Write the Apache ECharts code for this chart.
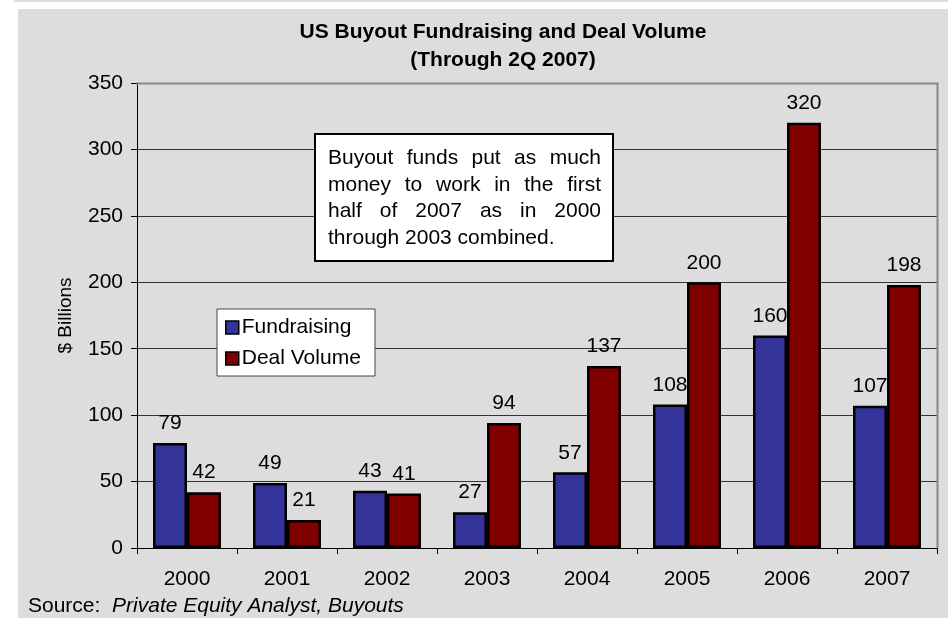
<!DOCTYPE html>
<html>
<head>
<meta charset="utf-8">
<script src="https://cdn.jsdelivr.net/npm/echarts@6/dist/echarts.min.js"></script>
<style>
  html, body { margin: 0; padding: 0; background: #ffffff; }
  #main { width: 948px; height: 618px; }
</style>
</head>
<body>
<div id="main"></div>
<script>
// chart data
var years = ["2000", "2001", "2002", "2003", "2004", "2005", "2006", "2007"];
var fundraising = [79, 49, 43, 27, 57, 108, 160, 107];
var dealVolume = [42, 21, 41, 94, 137, 200, 320, 198];
var yTicks = { min: 0, max: 350, interval: 50 };
var noteLines = [
  "Buyout funds put as much",
  "money to work in the first",
  "half of 2007 as in 2000",
  "through 2003 combined."
];

var font = "Liberation Sans, Arial, sans-serif";
var fs = 21;
var chart = echarts.init(document.getElementById("main"));

function barSeries(name, data, color) {
  return {
    name: name,
    type: "bar",
    data: data,
    barGap: "0%",
    barCategoryGap: "32%",
    itemStyle: { color: color, borderColor: "#000000", borderWidth: 2.5 },
    label: {
      show: true,
      position: "top",
      distance: 9,
      color: "#000000",
      fontSize: fs,
      fontFamily: font
    },
    z: 3
  };
}

// justified note text: measure words and spread them across the box width
var measure = document.createElement("canvas").getContext("2d");
measure.font = fs + "px " + font;
var noteLeft = 328, noteRight = 601, noteTop = 148, noteLh = 26.5;
var noteTexts = [];
noteLines.forEach(function (line, i) {
  var words = line.split(" ");
  var y = noteTop + i * noteLh;
  if (i === noteLines.length - 1) {
    noteTexts.push({ type: "text", x: noteLeft, y: y, z: 6, silent: true,
      style: { text: line, font: fs + "px " + font, fill: "#000000" } });
    return;
  }
  var total = 0;
  words.forEach(function (w) { total += measure.measureText(w).width; });
  var gap = (noteRight - noteLeft - total) / (words.length - 1);
  var x = noteLeft;
  words.forEach(function (w) {
    noteTexts.push({ type: "text", x: x, y: y, z: 6, silent: true,
      style: { text: w, font: fs + "px " + font, fill: "#000000" } });
    x += measure.measureText(w).width + gap;
  });
});

var option = {
  backgroundColor: "#ffffff",
  animation: false,
  title: {
    text: "US Buyout Fundraising and Deal Volume\n(Through 2Q 2007)",
    left: 498,
    top: 13,
    textAlign: "center",
    textStyle: {
      fontFamily: font,
      fontSize: 21,
      fontWeight: "bold",
      color: "#000000",
      lineHeight: 28
    }
  },
  legend: {
    orient: "vertical",
    left: 220,
    top: 312,
    itemWidth: 13,
    itemHeight: 13,
    itemGap: 10,
    icon: "rect",
    data: ["Fundraising", "Deal Volume"],
    itemStyle: { borderColor: "#000000", borderWidth: 1.5 },
    textStyle: { fontFamily: font, fontSize: fs, color: "#000000", padding: [0, 0, 0, -2] },
    z: 10
  },
  grid: { left: 137, top: 83, right: 11, bottom: 70 },
  xAxis: {
    type: "category",
    data: years,
    axisLine: { lineStyle: { color: "#000000", width: 1 } },
    axisTick: { show: true, length: 6, lineStyle: { color: "#000000" } },
    axisLabel: { fontFamily: font, fontSize: fs, color: "#000000", margin: 21 }
  },
  yAxis: {
    type: "value",
    min: yTicks.min,
    max: yTicks.max,
    interval: yTicks.interval,
    name: "$ Billions",
    nameLocation: "middle",
    nameGap: 62,
    nameTextStyle: { fontFamily: font, fontSize: 19, color: "#000000" },
    axisLine: { show: true, lineStyle: { color: "#000000", width: 1 } },
    axisTick: { show: true, length: 6, lineStyle: { color: "#000000" } },
    axisLabel: { fontFamily: font, fontSize: fs, color: "#000000", margin: 14 },
    splitLine: { lineStyle: { color: "#333333", width: 1 } }
  },
  series: [
    barSeries("Fundraising", fundraising, "#333399"),
    barSeries("Deal Volume", dealVolume, "#800000")
  ],
  graphic: [
    {
      type: "rect",
      shape: { x: 18, y: 9, width: 930, height: 609 },
      style: { fill: "#dddddd" },
      z: -10, silent: true
    },
    {
      type: "rect",
      shape: { x: 14, y: 0, width: 934, height: 2 },
      style: { fill: "#dddddd" },
      z: -10, silent: true
    },
    {
      type: "polyline",
      shape: { points: [[137, 83.5], [937.5, 83.5], [937.5, 548]] },
      style: { stroke: "#888888", lineWidth: 2, fill: null },
      z: 1, silent: true
    },
    {
      type: "rect",
      shape: { x: 217, y: 309, width: 158, height: 67 },
      style: { fill: "#ffffff", stroke: "#444444", lineWidth: 1 },
      z: 5, silent: true
    },
    {
      type: "rect",
      shape: { x: 315, y: 134, width: 298, height: 127 },
      style: { fill: "#ffffff", stroke: "#000000", lineWidth: 2 },
      z: 5, silent: true
    },
    {
      type: "text",
      left: 28,
      top: 596,
      style: {
        text: "Source:  {i|Private Equity Analyst, Buyouts}",
        fontFamily: font,
        fontSize: fs,
        fill: "#000000",
        rich: { i: { fontFamily: font, fontSize: fs, fontStyle: "italic" } }
      },
      z: 6, silent: true
    }
  ].concat(noteTexts)
};

chart.setOption(option);
</script>
</body>
</html>
